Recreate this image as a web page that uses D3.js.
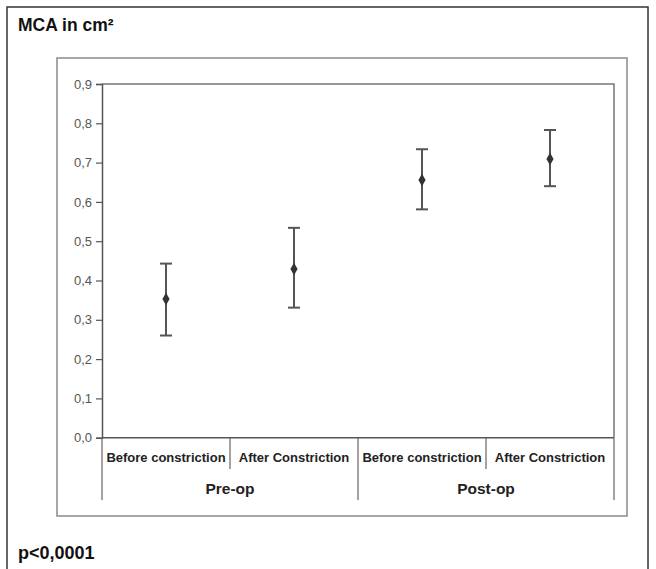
<!DOCTYPE html>
<html>
<head>
<meta charset="utf-8">
<script src="https://cdn.jsdelivr.net/npm/d3@7"></script>
<style>
  body { margin: 0; background: #fff; }
  text { font-family: "Liberation Sans", Arial, sans-serif; }
</style>
</head>
<body>
<svg class="mca_svg" width="656" height="569"></svg>
<script>
// values
var categories = ["Before constriction", "After Constriction", "Before constriction", "After Constriction"];
var groups = ["Pre-op", "Post-op"];
var means = [0.353, 0.429, 0.656, 0.709];
var upper = [0.443, 0.534, 0.734, 0.783];
var lower = [0.260, 0.331, 0.581, 0.640];
var yTicks = [0, 0.1, 0.2, 0.3, 0.4, 0.5, 0.6, 0.7, 0.8, 0.9];

var svg = d3.select(".mca_svg");

// outer frame
svg.append("rect")
    .attr("x", 7).attr("y", 7)
    .attr("width", 641).attr("height", 580)
    .attr("fill", "none")
    .attr("stroke", "#333")
    .attr("stroke-width", 1.5);

svg.append("text")
    .text("MCA in cm²")
    .attr("x", 18).attr("y", 31)
    .style("font-size", "17.5px")
    .style("font-weight", "bold")
    .style("fill", "#111");

// chart box
svg.append("rect")
    .attr("x", 57).attr("y", 58)
    .attr("width", 570).attr("height", 458)
    .attr("fill", "none")
    .attr("stroke", "#8a8a8a")
    .attr("stroke-width", 1.5);

var pLeft = 102, pRight = 614, pTop = 84, pBottom = 437.7;

var x = d3.scaleBand()
    .domain(d3.range(categories.length))
    .range([pLeft, pRight]);

var y = d3.scaleLinear()
    .domain([0, 0.9])
    .range([pBottom, pTop]);

// plot area border (top/right gray)
svg.append("path")
    .attr("d", "M" + pLeft + "," + pTop + "H" + pRight + "V" + pBottom)
    .attr("fill", "none")
    .attr("stroke", "#777")
    .attr("stroke-width", 1.5);

var yAxis = svg.append("g")
    .attr("transform", "translate(" + pLeft + ",0)")
    .call(d3.axisLeft(y).tickValues(yTicks).tickSize(6).tickPadding(4)
        .tickFormat(function (d) { return d3.format(".1f")(d).replace(".", ","); }));
yAxis.select(".domain").attr("stroke", "#555").attr("stroke-width", 1.5);
yAxis.selectAll(".tick line").attr("stroke", "#555").attr("stroke-width", 1.2);
yAxis.selectAll("text")
    .style("font-size", "13px")
    .style("fill", "#555")
    .style("font-family", "Liberation Sans, Arial, sans-serif");

// baseline
svg.append("line")
    .attr("x1", pLeft).attr("x2", pRight)
    .attr("y1", pBottom).attr("y2", pBottom)
    .attr("stroke", "#555")
    .attr("stroke-width", 1.5);

// category dividers
d3.range(categories.length + 1).forEach(function (i) {
    var xx = i < categories.length ? x(i) : pRight;
    var outer = (i % 2 === 0);
    svg.append("line")
        .attr("x1", xx).attr("x2", xx)
        .attr("y1", pBottom)
        .attr("y2", outer ? 500 : 469)
        .attr("stroke", "#666")
        .attr("stroke-width", 1.2);
});

svg.selectAll(".cat_text")
    .data(categories)
    .enter().append("text")
    .attr("class", "cat_text")
    .text(function (d) { return d; })
    .attr("x", function (d, i) { return x(i) + x.bandwidth() / 2; })
    .attr("y", 462)
    .attr("text-anchor", "middle")
    .style("font-size", "13px")
    .style("font-weight", "bold")
    .style("fill", "#222");

svg.selectAll(".grp_text")
    .data(groups)
    .enter().append("text")
    .attr("class", "grp_text")
    .text(function (d) { return d; })
    .attr("x", function (d, i) { return x(i * 2) + x.bandwidth(); })
    .attr("y", 494)
    .attr("text-anchor", "middle")
    .style("font-size", "15.5px")
    .style("font-weight", "bold")
    .style("fill", "#222");

// error bars
var bars = svg.selectAll(".err")
    .data(means)
    .enter().append("g")
    .attr("class", "err")
    .attr("transform", function (d, i) {
        return "translate(" + (x(i) + x.bandwidth() / 2) + ",0)";
    });

bars.append("line")
    .attr("y1", function (d, i) { return y(upper[i]); })
    .attr("y2", function (d, i) { return y(lower[i]); })
    .attr("stroke", "#555").attr("stroke-width", 2);

bars.append("line")
    .attr("x1", -6).attr("x2", 6)
    .attr("y1", function (d, i) { return y(upper[i]); })
    .attr("y2", function (d, i) { return y(upper[i]); })
    .attr("stroke", "#555").attr("stroke-width", 2);

bars.append("line")
    .attr("x1", -6).attr("x2", 6)
    .attr("y1", function (d, i) { return y(lower[i]); })
    .attr("y2", function (d, i) { return y(lower[i]); })
    .attr("stroke", "#555").attr("stroke-width", 2);

bars.append("path")
    .attr("d", d3.symbol().type(d3.symbolDiamond).size(45))
    .attr("transform", function (d) { return "translate(0," + y(d) + ")"; })
    .attr("fill", "#333");

svg.append("text")
    .text("p<0,0001")
    .attr("x", 18).attr("y", 559)
    .style("font-size", "18px")
    .style("font-weight", "bold")
    .style("fill", "#111");
</script>
</body>
</html>
